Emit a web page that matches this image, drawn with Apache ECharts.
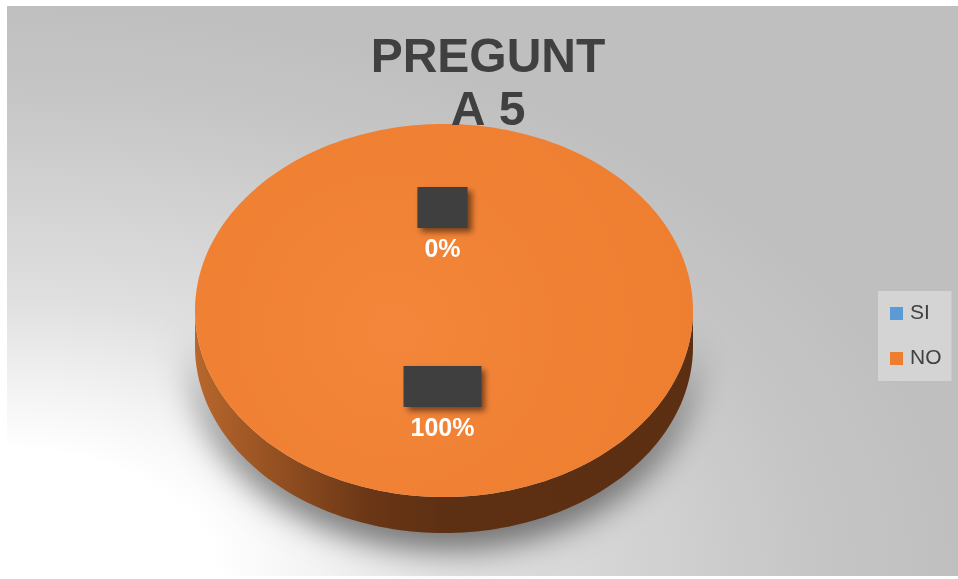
<!DOCTYPE html>
<html>
<head>
<meta charset="utf-8">
<script src="https://cdn.jsdelivr.net/npm/echarts@6/dist/echarts.min.js"></script>
<style>
html,body{margin:0;padding:0;background:#ffffff;}
#c{width:958px;height:579px;}
</style>
</head>
<body>
<div id="c"></div>
<script>
// ---- data ----
const categories = ['SI', 'NO'];
const values = [0, 100];
const titleText = 'PREGUNT\nA 5';

// ---- styles ----
const sliceColors = ['#5b9bd5', '#ed7d31'];
const sideColors = [['#4a7fae', '#22405c'], ['#b8672c', '#5e3013']];
const FONT = '"Liberation Sans", Arial, sans-serif';
const PIE = { cx: 444, cy: 310.5, rx: 249, ry: 186.5, depth: 36 };
const LABEL_F = 0.48;

const total = values.reduce((a, b) => a + b, 0);
const cum = [];
(function () { let s = 0; values.forEach(v => { cum.push(s); s += v; }); })();

const measureCtx = document.createElement('canvas').getContext('2d');
function textWidth(t, font) { measureCtx.font = font; return measureCtx.measureText(t).width; }

function arcPts(a0, a1, dy, n) {
  const pts = [];
  for (let k = 0; k <= n; k++) {
    const t = a0 + (a1 - a0) * k / n;
    pts.push([PIE.cx + PIE.rx * Math.cos(t), PIE.cy + dy + PIE.ry * Math.sin(t)]);
  }
  return pts;
}

function renderItem(params, api) {
  const i = params.dataIndex;
  const v = api.value(0);
  const a0 = -Math.PI / 2 + 2 * Math.PI * cum[i] / total;
  const a1 = a0 + 2 * Math.PI * v / total;
  const children = [];
  if (v > 0) {
    // front side band
    for (let k = -1; k <= 2; k++) {
      const lo = Math.max(a0, 2 * k * Math.PI);
      const hi = Math.min(a1, 2 * k * Math.PI + Math.PI);
      if (hi > lo) {
        const pts = arcPts(lo, hi, 0, 120).concat(arcPts(lo, hi, PIE.depth, 120).reverse());
        children.push({
          type: 'polygon', z2: 0,
          shape: { points: pts },
          style: {
            fill: new echarts.graphic.LinearGradient(0, 0, 1, 0, [
              { offset: 0, color: sideColors[i][0] },
              { offset: 0.2, color: '#8c4b1f' },
              { offset: 0.35, color: '#6a3616' },
              { offset: 0.5, color: sideColors[i][1] },
              { offset: 1, color: '#5c2f12' }
            ]),
            shadowBlur: 34,
            shadowColor: 'rgba(0,0,0,0.6)',
            shadowOffsetY: 14
          }
        });
      }
    }
    // top face
    let topPts = arcPts(a0, a1, 0, 240);
    if (v < total) topPts = [[PIE.cx, PIE.cy]].concat(topPts);
    children.push({
      type: 'polygon', z2: 1,
      shape: { points: topPts },
      style: {
        fill: new echarts.graphic.RadialGradient(0.4, 0.55, 0.8, [
          { offset: 0, color: '#f3863a' },
          { offset: 1, color: '#ee7e30' }
        ])
      }
    });
  }
  // label
  const mid = (a0 + a1) / 2;
  const ax = PIE.cx - 1.5 + LABEL_F * PIE.rx * Math.cos(mid);
  const ay = PIE.cy + 7 + LABEL_F * PIE.ry * Math.sin(mid);
  const pct = Math.round(v / total * 100) + '%';
  const lblFont = 'bold 25px ' + FONT;
  const bw = textWidth(pct, lblFont) + 14;
  children.push({
    type: 'rect', z2: 2,
    shape: { x: ax - bw / 2, y: ay - 41, width: bw, height: 41 },
    style: {
      fill: '#3f3f3f',
      shadowBlur: 6, shadowOffsetX: 4, shadowOffsetY: 4,
      shadowColor: 'rgba(0,0,0,0.5)'
    }
  });
  children.push({
    type: 'text', z2: 3,
    x: ax, y: ay + 22,
    style: {
      text: pct, fill: '#ffffff',
      font: lblFont, align: 'center', verticalAlign: 'middle'
    }
  });
  return { type: 'group', children: children };
}

const chart = echarts.init(document.getElementById('c'), null, { renderer: 'canvas' });
chart.setOption({
  animation: false,
  backgroundColor: '#ffffff',
  graphic: [
    {
      type: 'group', x: 7, y: 6, scaleX: 951 / 570, z: -10, silent: true,
      children: [{
        type: 'rect',
        shape: { x: 0, y: 0, width: 570, height: 570 },
        style: {
          fill: new echarts.graphic.RadialGradient(0, 1, 1, [
            { offset: 0, color: '#ffffff' },
            { offset: 0.22, color: '#ffffff' },
            { offset: 0.32, color: '#f4f4f4' },
            { offset: 0.49, color: '#dfdfdf' },
            { offset: 0.84, color: '#c6c6c6' },
            { offset: 1, color: '#bfbfbf' }
          ])
        }
      }]
    },
    {
      type: 'rect', z: -9, silent: true,
      shape: { x: 7.5, y: 6.5, width: 952, height: 569 },
      style: { fill: 'none', stroke: '#c4c4c4', lineWidth: 1 }
    },
    {
      type: 'text', z: 10, x: 488, y: 32, silent: true,
      style: {
        text: titleText, fill: '#404040',
        font: 'bold 48px ' + FONT, lineHeight: 53,
        align: 'center', verticalAlign: 'top'
      }
    }
  ],
  legend: {
    data: categories,
    orient: 'vertical',
    left: 878, top: 291,
    padding: [12, 10, 12, 12],
    itemGap: 24,
    itemWidth: 13, itemHeight: 13,
    icon: 'rect',
    selectedMode: false,
    backgroundColor: '#d4d4d4',
    textStyle: { fontSize: 21, color: '#404040', fontFamily: FONT, padding: [0, 0, 0, 2] }
  },
  series: [
    {
      type: 'custom',
      name: 'PREGUNTA 5',
      coordinateSystem: 'none',
      renderItem: renderItem,
      data: values.map((v, i) => ({ name: categories[i], value: v })),
      silent: true
    },
    {
      type: 'pie',
      name: 'legend',
      radius: [0, 0],
      center: [-50, -50],
      silent: true,
      label: { show: false },
      labelLine: { show: false },
      data: values.map((v, i) => ({ name: categories[i], value: v, itemStyle: { color: sliceColors[i] } }))
    }
  ]
});
</script>
</body>
</html>
